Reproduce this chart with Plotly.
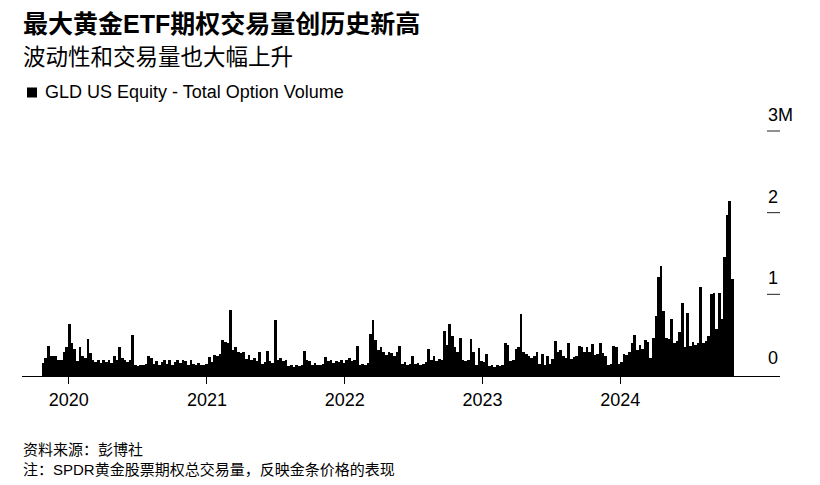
import pandas as pd
import plotly.graph_objects as go

# ---------------- data (weekly, millions of contracts) ----------------
week_start = pd.date_range("2019-10-21", periods=262, freq="7D")
volume_m = [
    0.16, 0.22, 0.37, 0.24, 0.25, 0.25, 0.20, 0.20, 0.29, 0.36,
    0.64, 0.40, 0.33, 0.18, 0.36, 0.24, 0.22, 0.45, 0.28, 0.20,
    0.17, 0.20, 0.16, 0.19, 0.17, 0.20, 0.16, 0.24, 0.20, 0.36,
    0.22, 0.20, 0.17, 0.19, 0.50, 0.13, 0.12, 0.14, 0.13, 0.15,
    0.24, 0.22, 0.15, 0.18, 0.14, 0.17, 0.20, 0.15, 0.19, 0.14,
    0.17, 0.20, 0.16, 0.20, 0.18, 0.14, 0.20, 0.15, 0.13, 0.16,
    0.13, 0.14, 0.15, 0.23, 0.17, 0.26, 0.25, 0.27, 0.44, 0.42,
    0.40, 0.81, 0.32, 0.35, 0.30, 0.28, 0.30, 0.21, 0.26, 0.19,
    0.22, 0.18, 0.30, 0.15, 0.17, 0.31, 0.18, 0.16, 0.685, 0.20,
    0.22, 0.18, 0.20, 0.12, 0.13, 0.11, 0.14, 0.12, 0.13, 0.31,
    0.20, 0.18, 0.14, 0.16, 0.13, 0.14, 0.15, 0.23, 0.18, 0.20,
    0.16, 0.18, 0.17, 0.19, 0.16, 0.20, 0.22, 0.18, 0.20, 0.37,
    0.14, 0.15, 0.13, 0.16, 0.52, 0.69, 0.44, 0.32, 0.35, 0.30,
    0.26, 0.30, 0.28, 0.25, 0.29, 0.37, 0.15, 0.17, 0.14, 0.15,
    0.24, 0.15, 0.16, 0.13, 0.15, 0.17, 0.33, 0.20, 0.24, 0.18,
    0.21, 0.20, 0.55, 0.38, 0.64, 0.49, 0.36, 0.30, 0.47, 0.20,
    0.18, 0.19, 0.45, 0.30, 0.14, 0.34, 0.18, 0.17, 0.27, 0.12,
    0.13, 0.11, 0.13, 0.12, 0.14, 0.41, 0.38, 0.18, 0.20, 0.33,
    0.36, 0.76, 0.29, 0.27, 0.24, 0.22, 0.24, 0.29, 0.15, 0.27,
    0.14, 0.24, 0.15, 0.21, 0.43, 0.30, 0.32, 0.25, 0.22, 0.41,
    0.21, 0.23, 0.24, 0.37, 0.36, 0.30, 0.35, 0.30, 0.39, 0.26,
    0.27, 0.41, 0.28, 0.24, 0.14, 0.15, 0.37, 0.36, 0.15, 0.17,
    0.27, 0.26, 0.30, 0.41, 0.50, 0.32, 0.38, 0.33, 0.44, 0.42,
    0.22, 0.46, 0.73, 1.215, 1.35, 0.79, 0.46, 0.45, 0.70, 0.41,
    0.43, 0.54, 0.90, 0.36, 0.77, 0.37, 0.42, 0.38, 0.40, 1.09,
    0.41, 0.43, 0.49, 1.01, 1.02, 0.58, 1.02, 0.70, 1.46, 1.97,
    2.14, 1.19,
]
year_ticks = ["2020-01-01", "2021-01-01", "2022-01-01", "2023-01-01", "2024-01-01"]
year_labels = ["2020", "2021", "2022", "2023", "2024"]
y_tick_vals = [0, 1, 2, 3]
y_tick_labels = ["0", "1", "2", "3M"]

title = "最大黄金ETF期权交易量创历史新高"
subtitle = "波动性和交易量也大幅上升"
legend_label = "GLD US Equity - Total Option Volume"
source = "资料来源：彭博社"
note = "注：SPDR黄金股票期权总交易量，反映金条价格的表现"

# ---------------- layout geometry ----------------
# The page body has an 8px margin: the figure starts at page (8, 8), so it
# is drawn 8px smaller and target page pixels are converted accordingly.
OFF = 8
W, H = 820 - OFF, 485 - OFF
PLOT_LEFT, PLOT_RIGHT, PLOT_TOP, PLOT_BOTTOM = 22, 780, 130, 376  # page px
L, T = PLOT_LEFT - OFF, PLOT_TOP - OFF
R, B = 820 - PLOT_RIGHT, 485 - PLOT_BOTTOM
PW, PH = PLOT_RIGHT - PLOT_LEFT, PLOT_BOTTOM - PLOT_TOP
Y_MAX = 3 * PH / 245.0  # 245 px per 3M
FONT = "Liberation Sans, Arial, Noto Sans CJK SC, sans-serif"


def px_x(px):
    return (px - PLOT_LEFT) / PW


def px_y(py):
    return (PLOT_BOTTOM - py) / PH


bar_x = week_start + pd.Timedelta(hours=84)

fig = go.Figure()
fig.add_trace(go.Bar(
    x=bar_x, y=volume_m, width=7 * 86400000,
    marker=dict(color="#000000", line=dict(width=0)),
    showlegend=False, hoverinfo="skip",
))

annotations = [
    dict(text=f"<b>{title}</b>", x=px_x(21), y=px_y(24), font=dict(size=25, color="#000")),
    dict(text=subtitle, x=px_x(21), y=px_y(57), font=dict(size=22.5, color="#000")),
    dict(text=legend_label, x=px_x(43), y=px_y(92), font=dict(size=18, color="#000")),
    dict(text=source, x=px_x(21), y=px_y(449), font=dict(size=15, color="#000")),
    dict(text=note, x=px_x(21), y=px_y(469), font=dict(size=15, color="#000")),
]
for a in annotations:
    a.update(xref="paper", yref="paper", xanchor="left", yanchor="middle",
             showarrow=False)

shapes = [dict(type="rect", xref="paper", yref="paper",
               x0=px_x(27), x1=px_x(37), y0=px_y(97.5), y1=px_y(87.5),
               fillcolor="#000", line=dict(width=0))]

for v, lab in zip(y_tick_vals, y_tick_labels):
    if lab.endswith("M"):
        annotations.append(dict(text=lab, xref="paper", x=px_x(766), xanchor="left",
                                yref="y", y=v, yanchor="middle", yshift=16,
                                showarrow=False, font=dict(size=18, color="#000")))
    else:
        annotations.append(dict(text=lab, xref="paper", x=1.0, xanchor="right",
                                yref="y", y=v, yanchor="middle",
                                yshift=18 if v == 0 else 16,
                                showarrow=False, font=dict(size=18, color="#000")))
    if v > 0:  # short tick dash at the right edge
        shapes.append(dict(type="line", xref="paper", yref="y",
                           x0=px_x(767), x1=1.0, y0=v, y1=v,
                           line=dict(color="#222", width=1)))

fig.update_layout(
    width=W, height=H, autosize=False,
    margin=dict(l=L, r=R, t=T, b=B, pad=0),
    paper_bgcolor="#ffffff", plot_bgcolor="#ffffff",
    font=dict(family=FONT, color="#000"),
    bargap=0,
    annotations=annotations,
    shapes=shapes,
    xaxis=dict(
        type="date",
        range=["2019-08-30", "2025-02-27 12:00"],
        tickvals=year_ticks, ticktext=year_labels,
        ticks="outside", ticklen=7, tickwidth=1, tickcolor="#000",
        tickfont=dict(size=18, color="#000"),
        showline=True, linecolor="#000", linewidth=1,
        showgrid=False, zeroline=False, fixedrange=True,
    ),
    yaxis=dict(
        range=[0, Y_MAX], side="right",
        showticklabels=False, ticks="",
        showline=False, showgrid=False, zeroline=False, fixedrange=True,
    ),
)

fig.write_html("out.html")
